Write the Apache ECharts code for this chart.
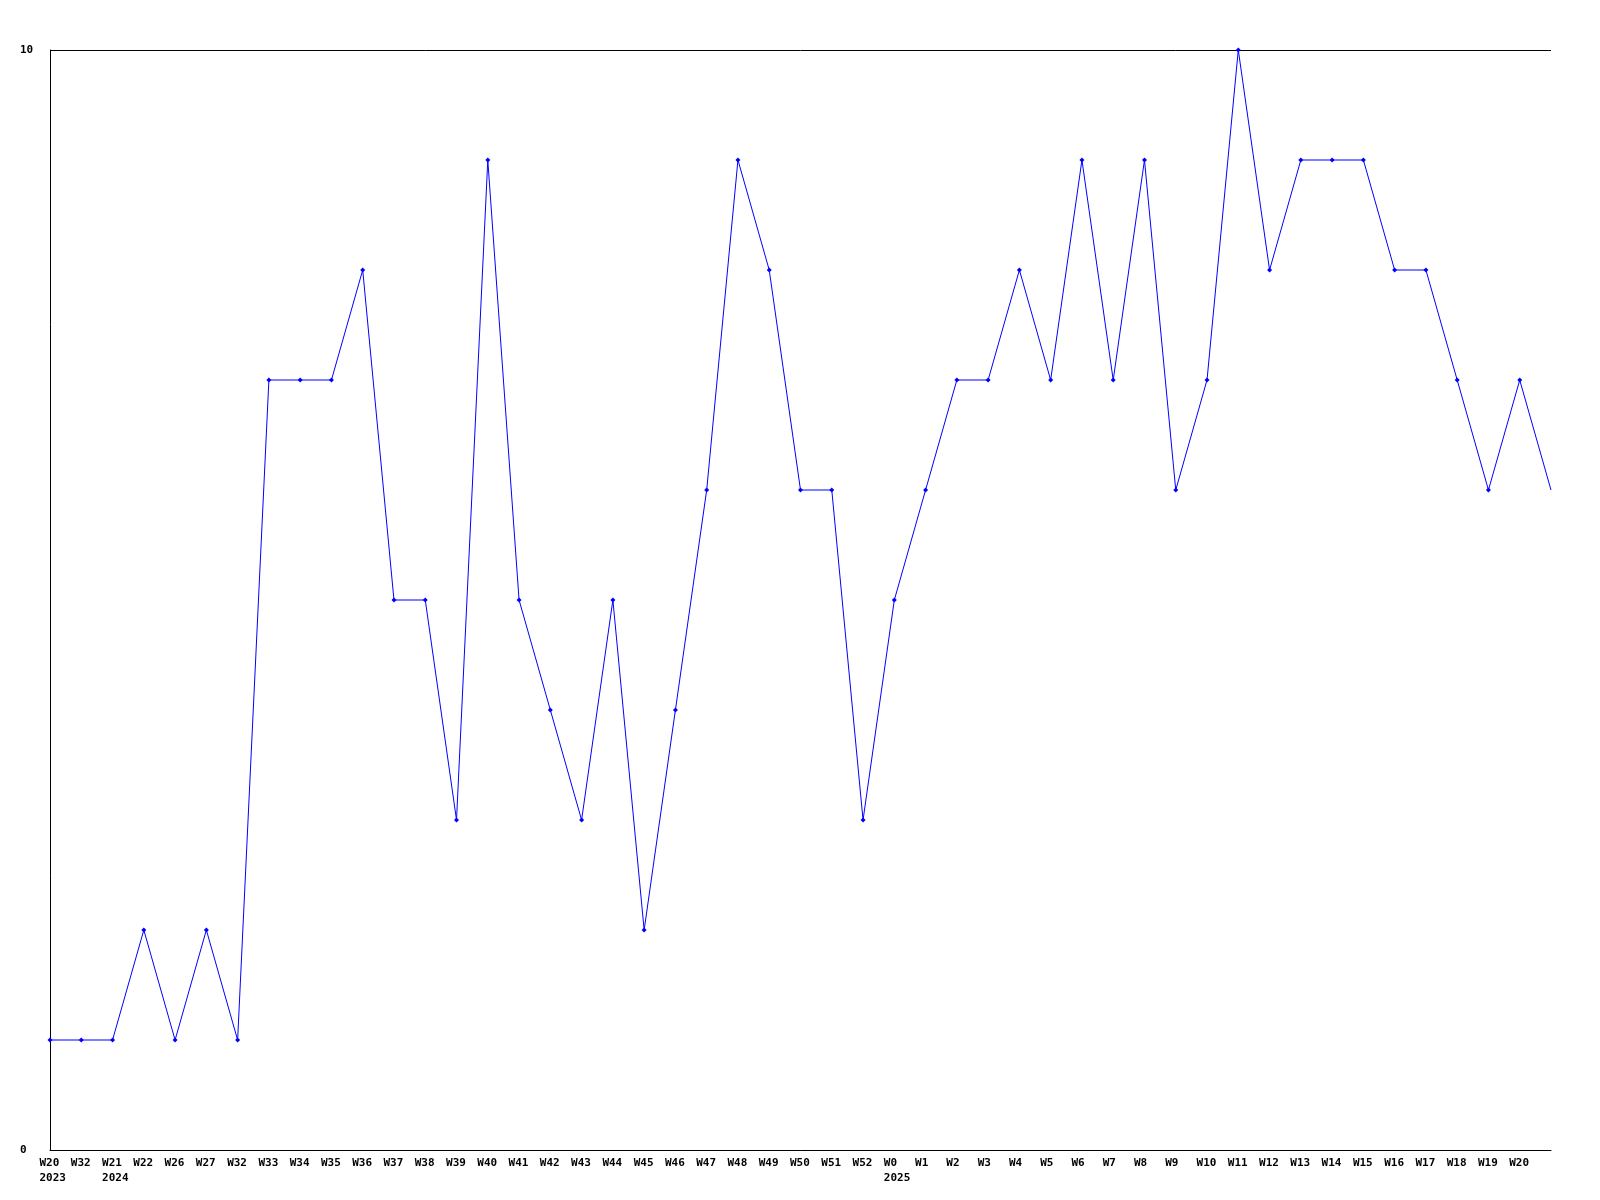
<!DOCTYPE html>
<html>
<head>
<meta charset="utf-8">
<script src="https://cdn.jsdelivr.net/npm/echarts@6/dist/echarts.min.js"></script>
<style>html,body{margin:0;padding:0;background:#fff}#c{width:1600px;height:1200px}</style>
</head>
<body>
<div id="c"></div>
<script>
const weeks = ['W20','W32','W21','W22','W26','W27','W32','W33','W34','W35','W36','W37','W38','W39','W40','W41','W42','W43','W44','W45','W46','W47','W48','W49','W50','W51','W52','W0','W1','W2','W3','W4','W5','W6','W7','W8','W9','W10','W11','W12','W13','W14','W15','W16','W17','W18','W19','W20',''];
const years = {0:'2023', 2:'2024', 27:'2025'};
const values = [1,1,1,2,1,2,1,7,7,7,8,5,5,3,9,5,4,3,5,2,4,6,9,8,6,6,3,5,6,7,7,8,7,9,7,9,6,7,10,8,9,9,9,8,8,7,6,7,6];
const yTicks = [0, 10];

const font = 'DejaVu Sans Mono';
const chart = echarts.init(document.getElementById('c'), null, {renderer:'canvas'});
chart.setOption({
  animation: false,
  backgroundColor: '#ffffff',
  grid: {left: 50, right: 49, top: 50, bottom: 50, containLabel: false},
  xAxis: {
    type: 'category',
    data: weeks.map((w, i) => ({value: w + '|' + i})),
    boundaryGap: false,
    axisLine: {show: true, lineStyle: {color: '#000', width: 1}},
    axisTick: {show: false},
    splitLine: {show: false},
    axisLabel: {
      interval: 0,
      margin: 6,
      align: 'center',
      verticalAlign: 'top',
      formatter: function (v) {
        const parts = v.split('|');
        const i = +parts[1];
        let s = '{a|' + parts[0] + '}';
        if (years[i]) s += '\n{a|' + years[i] + '}';
        return s;
      },
      rich: {
        a: {width: 21, align: 'left', fontFamily: font, fontWeight: 'bold', fontSize: 11, color: '#000', lineHeight: 15}
      }
    }
  },
  yAxis: {
    type: 'value',
    min: yTicks[0],
    max: yTicks[1],
    interval: 10,
    axisLine: {show: true, lineStyle: {color: '#000', width: 1}},
    axisTick: {show: false},
    splitLine: {show: true, lineStyle: {color: '#000', width: 1}},
    axisLabel: {
      margin: 30,
      align: 'left',
      fontFamily: font, fontWeight: 'bold', fontSize: 11, color: '#000'
    }
  },
  series: [{
    type: 'line',
    data: values.map((v, i) => i === values.length - 1 ? {value: v, symbol: 'none'} : v),
    symbol: 'diamond',
    symbolSize: 5,
    showAllSymbol: true,
    lineStyle: {color: '#0000ff', width: 1},
    itemStyle: {color: '#0000ff'},
    emphasis: {disabled: true}
  }]
});
</script>
</body>
</html>
